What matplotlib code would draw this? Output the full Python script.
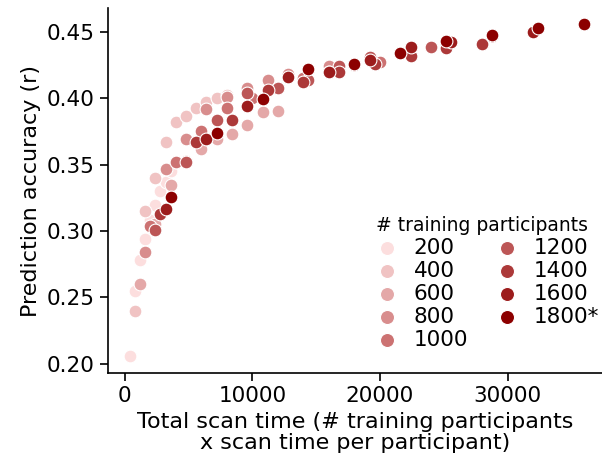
import numpy as np
import pandas as pd
import matplotlib
matplotlib.use("Agg")
import matplotlib.pyplot as plt
from matplotlib.colors import LinearSegmentedColormap

# number of training participants and scan time per participant (min)
n_train = [200, 400, 600, 800, 1000, 1200, 1400, 1600, 1800]
scan_time = [2, 4, 6, 8, 10, 12, 14, 16, 18, 20]

# prediction accuracy, one row per n_train, one column per scan_time
acc_200 = [0.206, 0.255, 0.278, 0.294, 0.308, 0.320, 0.330, 0.337, 0.345, 0.352]
acc_400 = [0.240, 0.315, 0.340, 0.367, 0.382, 0.387, 0.393, 0.397, 0.400, 0.4025]
acc_600 = [0.260, 0.305, 0.335, 0.353, 0.362, 0.369, 0.373, 0.380, 0.390, 0.3905]
acc_800 = [0.284, 0.347, 0.369, 0.392, 0.401, 0.408, 0.414, 0.418, 0.421, 0.424]
acc_1000 = [0.304, 0.352, 0.375, 0.3925, 0.400, 0.408, 0.415, 0.420, 0.425, 0.427]
acc_1200 = [0.301, 0.352, 0.384, 0.404, 0.408, 0.414, 0.424, 0.431, 0.434, 0.439]
acc_1400 = [0.313, 0.367, 0.384, 0.406, 0.4126, 0.420, 0.426, 0.432, 0.4377, 0.4407]
acc_1600 = [0.317, 0.369, 0.394, 0.416, 0.420, 0.429, 0.439, 0.4427, 0.447, 0.450]
acc_1800 = [0.326, 0.374, 0.3995, 0.422, 0.426, 0.434, 0.4435, 0.448, 0.453, 0.4558]
acc = [acc_200, acc_400, acc_600, acc_800, acc_1000, acc_1200, acc_1400, acc_1600, acc_1800]

rows = []
for n, a in zip(n_train, acc):
    for t, r in zip(scan_time, a):
        rows.append((n, t, n * t, r))
df = pd.DataFrame(rows, columns=["n", "t", "total", "r"])

cmap = LinearSegmentedColormap.from_list("reds", [(0.99, 0.87, 0.87), (0.80, 0.45, 0.45), (0.55, 0.0, 0.0)])
colors = [cmap(i / (len(n_train) - 1)) for i in range(len(n_train))]

fig = plt.figure(figsize=(6.02, 4.70), dpi=100)
ax = fig.add_axes([0.179, 0.206, 0.821, 0.777])

for n, c in zip(n_train, colors):
    d = df[df["n"] == n]
    lab = "1800*" if n == 1800 else str(n)
    ax.scatter(d["total"], d["r"], s=85, color=c, edgecolor="white", linewidth=0.8, label=lab, zorder=2)

ax.set_xlim(-1330, 37400)
ax.set_ylim(0.193, 0.468)
ax.set_xticks([0, 10000, 20000, 30000])
ax.set_yticks([0.20, 0.25, 0.30, 0.35, 0.40, 0.45])
ax.set_yticklabels(["0.20", "0.25", "0.30", "0.35", "0.40", "0.45"])
ax.tick_params(labelsize=15.5, width=1.2, length=6)
ax.spines["top"].set_visible(False)
ax.spines["right"].set_visible(False)
ax.spines["left"].set_linewidth(1.2)
ax.spines["bottom"].set_linewidth(1.2)
ax.set_xlabel("Total scan time (# training participants\nx scan time per participant)", fontsize=16, linespacing=1.05)
ax.set_ylabel("Prediction accuracy (r)", fontsize=16)

leg = ax.legend(title="# training participants", ncol=2, frameon=False, fontsize=15.5,
                title_fontsize=13.5, loc="upper left", bbox_to_anchor=(350 / 602, 1 - 201 / 470),
                bbox_transform=fig.transFigure, handletextpad=0.25, columnspacing=0.8,
                labelspacing=0.14, borderpad=0.2, markerscale=1.1)

fig.savefig("out.png", dpi=100)
